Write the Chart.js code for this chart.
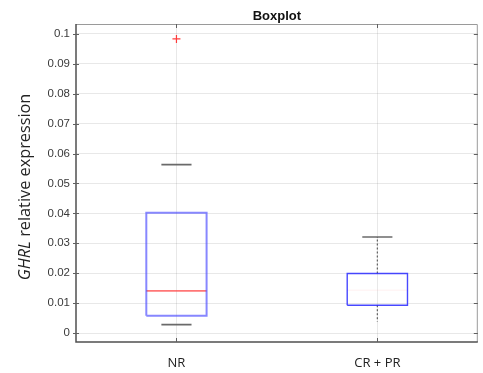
<!DOCTYPE html>
<html>
<head>
<meta charset="utf-8">
<script src="https://cdn.jsdelivr.net/npm/chart.js@4.4.1/dist/chart.umd.min.js"></script>
<style>
  html, body { margin: 0; padding: 0; background: #ffffff; }
  #wrap { width: 483px; height: 373px; }
</style>
</head>
<body>
<div id="wrap"><canvas id="chart" width="483" height="373"></canvas></div>
<script>
// Groups and their five-number summaries (GHRL relative expression)
const categories = ['NR', 'CR + PR'];
const lowerWhisker = [0.0028, 0.0038];
const quartile1 = [0.0058, 0.0093];
const medians = [0.0141, 0.0143];
const quartile3 = [0.0402, 0.0199];
const upperWhisker = [0.0563, 0.0321];
const outlierValues = [[0.0983], []];
const yTickValues = [0, 0.01, 0.02, 0.03, 0.04, 0.05, 0.06, 0.07, 0.08, 0.09, 0.1];

// Drawing styles per group
const BOX_HALF = 0.15;
const CAP_HALF = 0.075;
const boxColors = ['rgba(70,70,255,0.65)', 'rgba(40,40,255,0.85)'];
const boxWidths = [2, 1.4];
const medianColors = ['rgba(255,60,60,0.7)', 'rgba(255,80,80,0.06)'];
const whiskerColors = ['rgba(0,0,0,0.0)', 'rgba(70,70,70,0.85)'];
const upperCapColors = ['rgba(90,90,90,0.9)', 'rgba(90,90,90,0.9)'];
const lowerCapColors = ['rgba(90,90,90,0.9)', 'rgba(0,0,0,0)'];

const datasets = [];
categories.forEach((name, i) => {
  const c = i + 1;
  const line = (data, color, width, dash) => ({
    data, showLine: true, borderColor: color, borderWidth: width,
    borderDash: dash || [], pointRadius: 0, fill: false, tension: 0
  });
  // box outline
  datasets.push(line([
    { x: c - BOX_HALF, y: quartile1[i] }, { x: c + BOX_HALF, y: quartile1[i] },
    { x: c + BOX_HALF, y: quartile3[i] }, { x: c - BOX_HALF, y: quartile3[i] },
    { x: c - BOX_HALF, y: quartile1[i] }
  ], boxColors[i], boxWidths[i]));
  // median
  datasets.push(line([{ x: c - BOX_HALF, y: medians[i] }, { x: c + BOX_HALF, y: medians[i] }],
    medianColors[i], 1.6));
  // whiskers
  datasets.push(line([{ x: c, y: quartile3[i] }, { x: c, y: upperWhisker[i] }], whiskerColors[i], 1.2, [2, 2]));
  datasets.push(line([{ x: c, y: quartile1[i] }, { x: c, y: lowerWhisker[i] }], whiskerColors[i], 1.2, [2, 2]));
  // whisker caps
  datasets.push(line([{ x: c - CAP_HALF, y: upperWhisker[i] }, { x: c + CAP_HALF, y: upperWhisker[i] }], upperCapColors[i], 1.6));
  datasets.push(line([{ x: c - CAP_HALF, y: lowerWhisker[i] }, { x: c + CAP_HALF, y: lowerWhisker[i] }], lowerCapColors[i], 1.6));
  // outliers
  datasets.push({
    data: outlierValues[i].map(v => ({ x: c, y: v })),
    showLine: false, pointStyle: 'cross', pointRadius: 4,
    borderColor: 'rgba(255,40,40,0.9)', borderWidth: 1.2, backgroundColor: 'rgba(0,0,0,0)'
  });
});

// Title, y-axis title, frame and inward ticks
const decorations = {
  id: 'decorations',
  afterDraw(chart) {
    const { ctx, chartArea: a, scales } = chart;
    ctx.save();
    // frame
    ctx.lineWidth = 1;
    ctx.strokeStyle = '#9a9a9a';
    ctx.beginPath();
    ctx.moveTo(a.left, a.top + 0.5); ctx.lineTo(a.right - 0.5, a.top + 0.5); ctx.lineTo(a.right - 0.5, a.bottom);
    ctx.stroke();
    ctx.strokeStyle = '#505050';
    ctx.lineWidth = 1.5;
    ctx.beginPath();
    ctx.moveTo(a.left, a.top); ctx.lineTo(a.left, a.bottom); ctx.lineTo(a.right, a.bottom);
    ctx.stroke();
    // ticks
    ctx.lineWidth = 1;
    ctx.strokeStyle = '#606060';
    ctx.beginPath();
    yTickValues.forEach(v => {
      const y = Math.round(scales.y.getPixelForValue(v)) + 0.5;
      ctx.moveTo(a.left - 3, y); ctx.lineTo(a.left + 3, y);
      ctx.moveTo(a.right - 4, y); ctx.lineTo(a.right, y);
    });
    categories.forEach((n, i) => {
      const x = Math.round(scales.x.getPixelForValue(i + 1)) + 0.5;
      ctx.moveTo(x, a.bottom - 4); ctx.lineTo(x, a.bottom);
      ctx.moveTo(x, a.top); ctx.lineTo(x, a.top + 4);
    });
    ctx.stroke();
    // title
    ctx.fillStyle = '#111';
    ctx.font = 'bold 13px "Liberation Sans", Arial, sans-serif';
    ctx.textAlign = 'center';
    ctx.textBaseline = 'middle';
    ctx.fillText('Boxplot', (a.left + a.right) / 2, 16);
    // y-axis title: italic gene symbol followed by plain text
    const italicPart = 'GHRL';
    const plainPart = ' relative expression';
    const fItalic = 'italic 16.3px "Open Sans", sans-serif';
    const fPlain = '16.3px "Open Sans", sans-serif';
    ctx.font = fItalic; const w1 = ctx.measureText(italicPart).width;
    ctx.font = fPlain; const w2 = ctx.measureText(plainPart).width;
    ctx.translate(25, 187);
    ctx.rotate(-Math.PI / 2);
    ctx.textAlign = 'left';
    ctx.fillStyle = '#222';
    const start = -(w1 + w2) / 2;
    ctx.font = fItalic; ctx.fillText(italicPart, start, 0);
    ctx.font = fPlain; ctx.fillText(plainPart, start + w1, 0);
    ctx.restore();
  }
};

new Chart(document.getElementById('chart'), {
  type: 'scatter',
  data: { datasets },
  options: {
    responsive: false,
    animation: false,
    layout: { padding: { top: 24, right: 3, bottom: 0, left: 0 } },
    plugins: { legend: { display: false }, tooltip: { enabled: false }, title: { display: false } },
    scales: {
      x: {
        type: 'linear', min: 0.5, max: 2.5,
        afterBuildTicks: s => { s.ticks = categories.map((n, i) => ({ value: i + 1 })); },
        afterFit: s => { s.height = 31; },
        ticks: {
          callback: (v, idx) => categories[idx],
          font: { family: '"Open Sans", sans-serif', size: 13 }, color: '#222', padding: 13
        },
        grid: { color: 'rgba(0,0,0,0.09)', drawTicks: false },
        border: { display: false }
      },
      y: {
        min: -0.003, max: 0.1033,
        afterBuildTicks: s => { s.ticks = yTickValues.map(v => ({ value: v })); },
        afterFit: s => { s.width = 76; },
        ticks: {
          callback: v => String(Number(v.toFixed(2))),
          font: { family: '"Liberation Sans", Arial, sans-serif', size: 11.5 }, color: '#3a3a3a', padding: 6
        },
        grid: { color: 'rgba(0,0,0,0.09)', drawTicks: false },
        border: { display: false }
      }
    }
  },
  plugins: [decorations]
});
</script>
</body>
</html>
